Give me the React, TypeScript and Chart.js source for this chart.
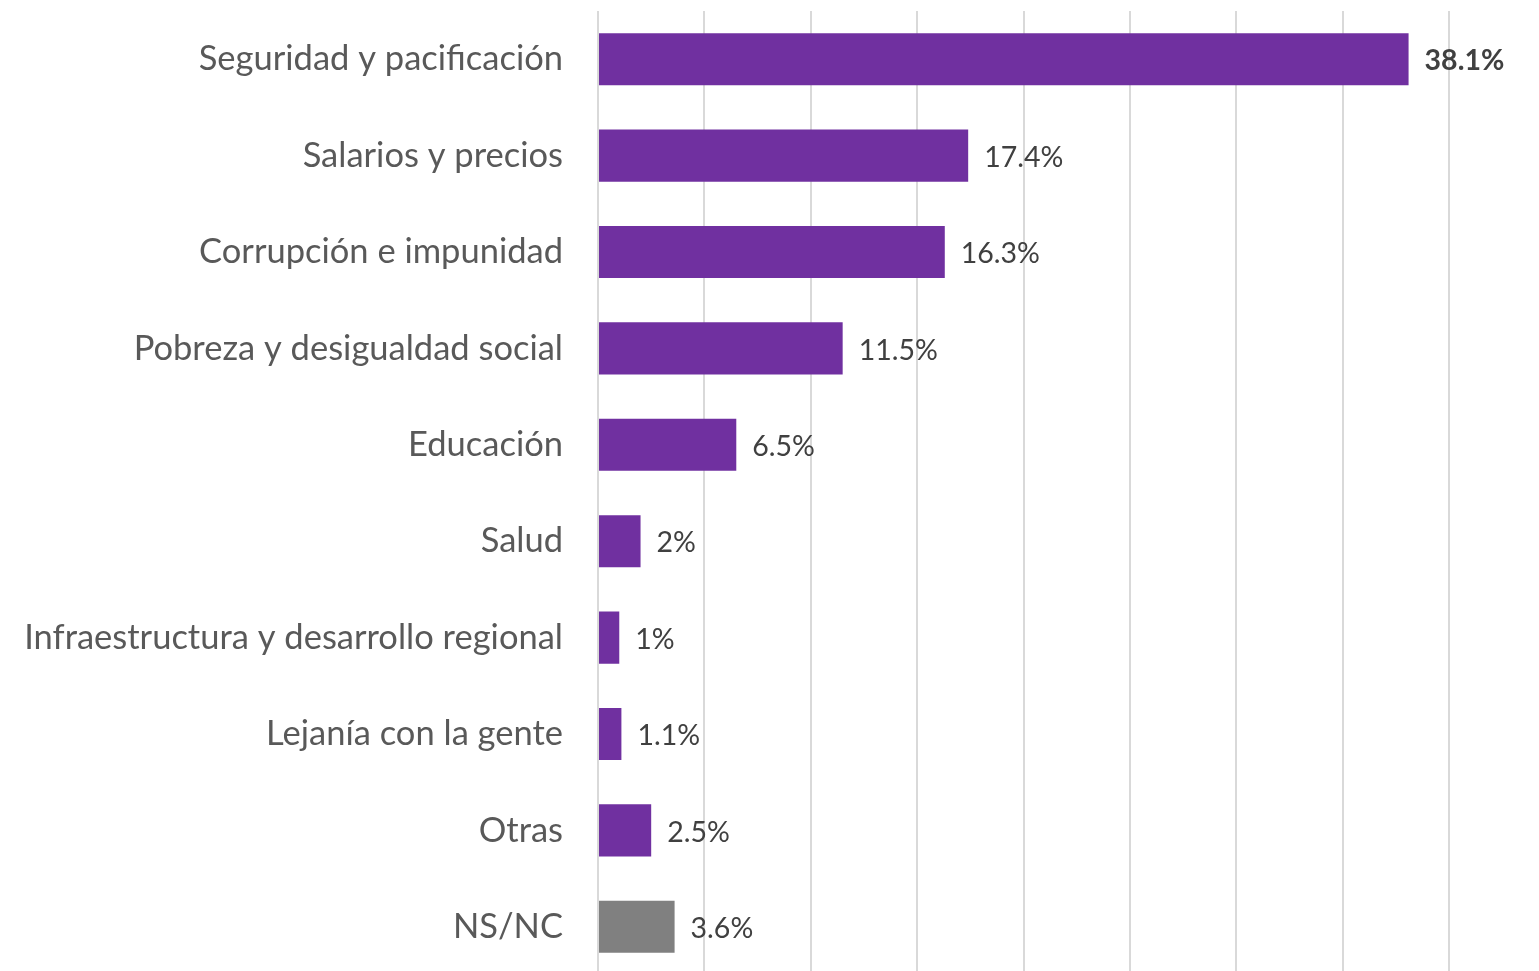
import React, { useEffect, useRef } from "react";
import { Chart, registerables } from "chart.js";

Chart.register(...registerables);

const categories = [
  "Seguridad y pacificación",
  "Salarios y precios",
  "Corrupción e impunidad",
  "Pobreza y desigualdad social",
  "Educación",
  "Salud",
  "Infraestructura y desarrollo regional",
  "Lejanía con la gente",
  "Otras",
  "NS/NC",
];
const values = [38.1, 17.4, 16.3, 11.5, 6.5, 2, 1, 1.1, 2.5, 3.6];
const valueLabels = ["38.1%", "17.4%", "16.3%", "11.5%", "6.5%", "2%", "1%", "1.1%", "2.5%", "3.6%"];
const barColors = ["#7030A0", "#7030A0", "#7030A0", "#7030A0", "#7030A0", "#7030A0", "#7030A0", "#7030A0", "#7030A0", "#808080"];
const boldLabels = [true, false, false, false, false, false, false, false, false, false];

const FONT = "Lato, Carlito, Calibri, sans-serif";

const dataLabelPlugin = {
  id: "dataLabels",
  afterDatasetsDraw(chart: any) {
    const ctx = chart.ctx;
    const meta = chart.getDatasetMeta(0);
    ctx.save();
    ctx.textBaseline = "middle";
    ctx.textAlign = "left";
    meta.data.forEach((bar: any, i: number) => {
      ctx.font = `${boldLabels[i] ? "bold " : ""}28.5px ${FONT}`;
      ctx.fillStyle = "#404040";
      ctx.fillText(valueLabels[i], bar.x + 16, bar.y + 2);
    });
    ctx.restore();
  },
};

export default function App() {
  const ref = useRef<HTMLCanvasElement>(null);
  useEffect(() => {
    const canvas = ref.current!;
    const chart = new Chart(canvas, {
      type: "bar",
      data: {
        labels: categories,
        datasets: [
          {
            data: values,
            backgroundColor: barColors,
            barPercentage: 0.54,
            categoryPercentage: 1,
          },
        ],
      },
      options: {
        indexAxis: "y",
        animation: false,
        responsive: false,
        maintainAspectRatio: false,
        layout: { padding: { top: 11, right: 90, bottom: 10, left: 0 } },
        plugins: { legend: { display: false }, tooltip: { enabled: false } },
        scales: {
          x: {
            min: 0,
            max: 40,
            ticks: { display: false, stepSize: 5 },
            grid: { color: "#D9D9D9", lineWidth: 2, drawTicks: false },
            border: { display: false },
            afterFit: (s: any) => {
              s.height = 0;
              s.paddingLeft = 0;
              s.paddingRight = 0;
            },
          },
          y: {
            grid: { display: false, drawTicks: false },
            border: { display: false },
            ticks: {
              color: "#595959",
              padding: 35,
              font: { family: FONT, size: 34.5 },
            },
            afterFit: (s: any) => {
              s.width = 598;
              s.paddingTop = 0;
              s.paddingBottom = 0;
            },
          },
        },
      },
      plugins: [dataLabelPlugin],
    });
    return () => chart.destroy();
  }, []);
  return (
    <div style={{ position: "fixed", left: 0, top: 0, width: 1539, height: 971, overflow: "hidden", background: "#fff" }}>
      <canvas ref={ref} width={1539} height={985} style={{ display: "block" }} />
    </div>
  );
}
